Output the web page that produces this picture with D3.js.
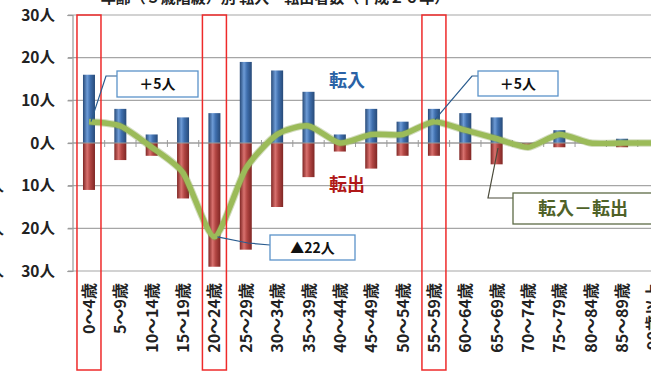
<!DOCTYPE html>
<html lang="ja">
<head>
<meta charset="utf-8">
<script src="https://cdn.jsdelivr.net/npm/d3@7"></script>
<style>
  html, body { margin: 0; padding: 0; background: #fff; }
  svg { display: block; font-family: "Noto Sans CJK JP", "Noto Sans", sans-serif; }
</style>
</head>
<body>
<svg id="chart" width="651" height="387"></svg>
<script>
// 年齢階級別 転入・転出者数
const ageGroups = ["0～4歳","5～9歳","10～14歳","15～19歳","20～24歳","25～29歳","30～34歳","35～39歳","40～44歳","45～49歳","50～54歳","55～59歳","60～64歳","65～69歳","70～74歳","75～79歳","80～84歳","85～89歳","90歳以上"];
const moveIn  = [16, 8, 2, 6, 7, 19, 17, 12, 2, 8, 5, 8, 7, 6, 0, 3, 0, 1, 0];
const moveOut = [-11, -4, -3, -13, -29, -25, -15, -8, -2, -6, -3, -3, -4, -5, -1, -1, 0, -1, 0];
const netMove = [5, 4, -1, -7, -22, -6, 2, 4, 0, 2, 2, 5, 3, 1, -1, 2, 0, 0, 0];
const yTicks = [30, 20, 10, 0, -10, -20, -30];
const highlighted = ["0～4歳", "20～24歳", "55～59歳"];
const callouts = [
  { group: "0～4歳",  text: "＋5人" },
  { group: "55～59歳", text: "＋5人" },
  { group: "20～24歳", text: "▲22人" }
];

const svg = d3.select("#chart");
const W = 651, H = 387;

const x = d3.scaleBand().domain(ageGroups).range([73.3, 73.3 + 31.36 * ageGroups.length]).padding(0);
const y = d3.scaleLinear().domain([-30, 30]).range([271, 15]);
const cx = g => x(g) + x.bandwidth() / 2;
const barW = 12;

const defs = svg.append("defs");
function cylinder(id, edge, mid, light) {
  const gr = defs.append("linearGradient").attr("id", id).attr("x1", "0%").attr("x2", "100%");
  gr.append("stop").attr("offset", "0%").attr("stop-color", edge);
  gr.append("stop").attr("offset", "35%").attr("stop-color", light);
  gr.append("stop").attr("offset", "60%").attr("stop-color", mid);
  gr.append("stop").attr("offset", "100%").attr("stop-color", edge);
}
cylinder("gIn", "#274a78", "#3f6fae", "#6d9bd6");
cylinder("gOut", "#7f2624", "#b24643", "#d8716e");

// title (partly outside the canvas)
svg.append("text").attr("x", 275).attr("y", 3).attr("text-anchor", "middle")
  .attr("font-size", 15).attr("font-weight", 700).attr("fill", "#222")
  .text("年齢（５歳階級）別 転入・転出者数（平成２６年）");

// gridlines
svg.append("g").selectAll("line").data(yTicks).join("line")
  .attr("x1", 68).attr("x2", W).attr("y1", d => y(d)).attr("y2", d => y(d))
  .attr("stroke", "#a6a6a6").attr("stroke-width", 1.2);

// y axis line and ticks
const yAxis = d3.axisLeft(y).tickValues(yTicks).tickSize(5).tickFormat(() => "");
const yg = svg.append("g").attr("transform", "translate(72.5,0)").call(yAxis);
yg.selectAll("path,line").attr("stroke", "#9a9a9a").attr("stroke-width", 1.2);

// y labels
svg.append("g").selectAll("text").data(yTicks).join("text")
  .attr("x", 55).attr("y", d => y(d)).attr("dy", "0.36em").attr("text-anchor", "end")
  .attr("font-size", 15.5).attr("font-weight", 700).attr("fill", "#222")
  .text(d => Math.abs(d) + "人");
svg.append("g").selectAll("text").data(yTicks.filter(d => d < 0)).join("text")
  .attr("x", 4).attr("y", d => y(d)).attr("dy", "0.36em").attr("text-anchor", "end")
  .attr("font-size", 15).attr("font-weight", 700).attr("fill", "#222").text("人");

// bars
svg.append("g").selectAll("rect").data(ageGroups).join("rect")
  .attr("x", d => cx(d) - barW / 2).attr("width", barW)
  .attr("y", (d, i) => y(moveIn[i])).attr("height", (d, i) => y(0) - y(moveIn[i]))
  .attr("fill", "url(#gIn)");
svg.append("g").selectAll("rect").data(ageGroups).join("rect")
  .attr("x", d => cx(d) - barW / 2).attr("width", barW)
  .attr("y", y(0)).attr("height", (d, i) => y(moveOut[i]) - y(0))
  .attr("fill", "url(#gOut)");

// zero axis with category ticks
svg.append("line").attr("x1", 72.5).attr("x2", W).attr("y1", y(0)).attr("y2", y(0))
  .attr("stroke", "#9a9a9a").attr("stroke-width", 1.2);
svg.append("g").selectAll("line").data(ageGroups).join("line")
  .attr("x1", d => x(d) + x.bandwidth()).attr("x2", d => x(d) + x.bandwidth())
  .attr("y1", y(0) - 3).attr("y2", y(0) + 4)
  .attr("stroke", "#9a9a9a").attr("stroke-width", 1);

// net line
const line = d3.line().x((d, i) => cx(ageGroups[i])).y(d => y(d)).curve(d3.curveCardinal.tension(0.35));
svg.append("path").datum(netMove).attr("d", line)
  .attr("fill", "none").attr("stroke", "#7f9a45").attr("stroke-width", 7.5)
  .attr("stroke-linejoin", "round").attr("opacity", 0.35);
svg.append("path").datum(netMove).attr("d", line)
  .attr("fill", "none").attr("stroke", "#9bbb59").attr("stroke-width", 5.5)
  .attr("stroke-linejoin", "round");

// x labels, rotated
svg.append("g").selectAll("text").data(ageGroups).join("text")
  .attr("transform", d => `translate(${cx(d) + 6},283) rotate(-90)`)
  .attr("text-anchor", "end")
  .attr("font-size", 16).attr("font-weight", 700).attr("fill", "#222")
  .text(d => d);

// highlight frames
svg.append("g").selectAll("rect").data(highlighted).join("rect")
  .attr("x", d => cx(d) - 12).attr("width", 24)
  .attr("y", y(30)).attr("height", 370 - y(30))
  .attr("fill", "none").attr("stroke", "#ee2a2a").attr("stroke-width", 1.5);

// series labels
svg.append("text").attr("x", 347).attr("y", 87).attr("text-anchor", "middle")
  .attr("font-size", 18).attr("font-weight", 700).attr("fill", "#2a62a6").text("転入");
svg.append("text").attr("x", 347).attr("y", 191).attr("text-anchor", "middle")
  .attr("font-size", 18).attr("font-weight", 700).attr("fill", "#b01818").text("転出");

// callouts
const ptAt = g => [cx(g), y(netMove[ageGroups.indexOf(g)])];
function box(x0, y0, w, h, stroke, text, color, fs) {
  svg.append("rect").attr("x", x0).attr("y", y0).attr("width", w).attr("height", h)
    .attr("fill", "#fff").attr("stroke", stroke).attr("stroke-width", 1.3);
  svg.append("text").attr("x", x0 + w / 2).attr("y", y0 + h / 2).attr("dy", "0.36em")
    .attr("text-anchor", "middle").attr("font-size", fs).attr("font-weight", 700)
    .attr("fill", color).text(text);
}
function leader(pts, color) {
  svg.append("path").attr("d", d3.line()(pts)).attr("fill", "none")
    .attr("stroke", color).attr("stroke-width", 1.2);
}
{
  const [px, py] = ptAt(callouts[0].group);
  leader([[px + 2, py], [106, 76], [117, 76]], "#2a5c8f");
  box(117, 71, 81, 26, "#5b93c9", callouts[0].text, "#111", 14);
}
{
  const [px, py] = ptAt(callouts[1].group);
  leader([[px + 1, py - 2], [472, 76], [478, 76]], "#2a5c8f");
  box(478, 71, 80, 25, "#5b93c9", callouts[1].text, "#111", 14);
}
{
  const [px, py] = ptAt(callouts[2].group);
  leader([[px + 3, py], [248, 243], [270, 245]], "#2a5c8f");
  box(270, 235, 85, 25, "#5b93c9", callouts[2].text, "#111", 14);
}
// net line label
leader([[498, 148], [488, 198], [513, 198]], "#4a4a3a");
box(513, 193, 140, 31, "#5d6b46", "転入－転出", "#4f6228", 18);
</script>
</body>
</html>
